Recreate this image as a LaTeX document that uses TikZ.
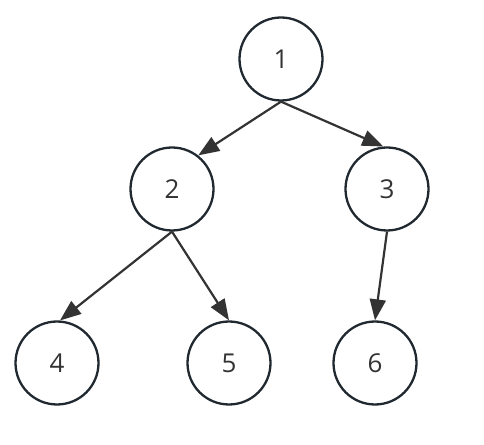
\documentclass[tikz,border=0pt]{standalone}
\usepackage{fontspec}
\setmainfont{Open Sans}
\usetikzlibrary{arrows.meta}
\definecolor{ringcol}{RGB}{33,41,48}
\definecolor{edgecol}{RGB}{51,51,51}
\begin{document}
\begin{tikzpicture}[
  x=1pt, y=1pt,
  every node/.style = {font=\fontsize{26}{30}\selectfont, text=edgecol},
  vertex/.style = {draw=ringcol, circle, line width=2.3pt, minimum size=83pt, inner sep=0pt},
  edge/.style = {-{Triangle[length=21pt, width=16pt]}, line width=2.2pt, edgecol},
]

%% ── Frame ────────────────────────────────────────────────────────────────────
\useasboundingbox (0,0) rectangle (484,444);

%% ── Tree nodes ───────────────────────────────────────────────────────────────
\node[vertex] (n1) at (281, 385) {1};
\node[vertex] (n2) at (172, 255) {2};
\node[vertex] (n3) at (387, 255) {3};
\node[vertex] (n4) at ( 57,  81) {4};
\node[vertex] (n5) at (229,  81) {5};
\node[vertex] (n6) at (375,  81) {6};

%% ── Edges ────────────────────────────────────────────────────────────────────
\draw[edge] (n1.south) -- (n2.52);
\draw[edge] (n1.south) -- (n3.95);
\draw[edge] (n2.south) -- (n4.86);
\draw[edge] (n2.south) -- (n5.north);
\draw[edge] (n3.south) -- (n6.north);

\end{tikzpicture}
\end{document}
